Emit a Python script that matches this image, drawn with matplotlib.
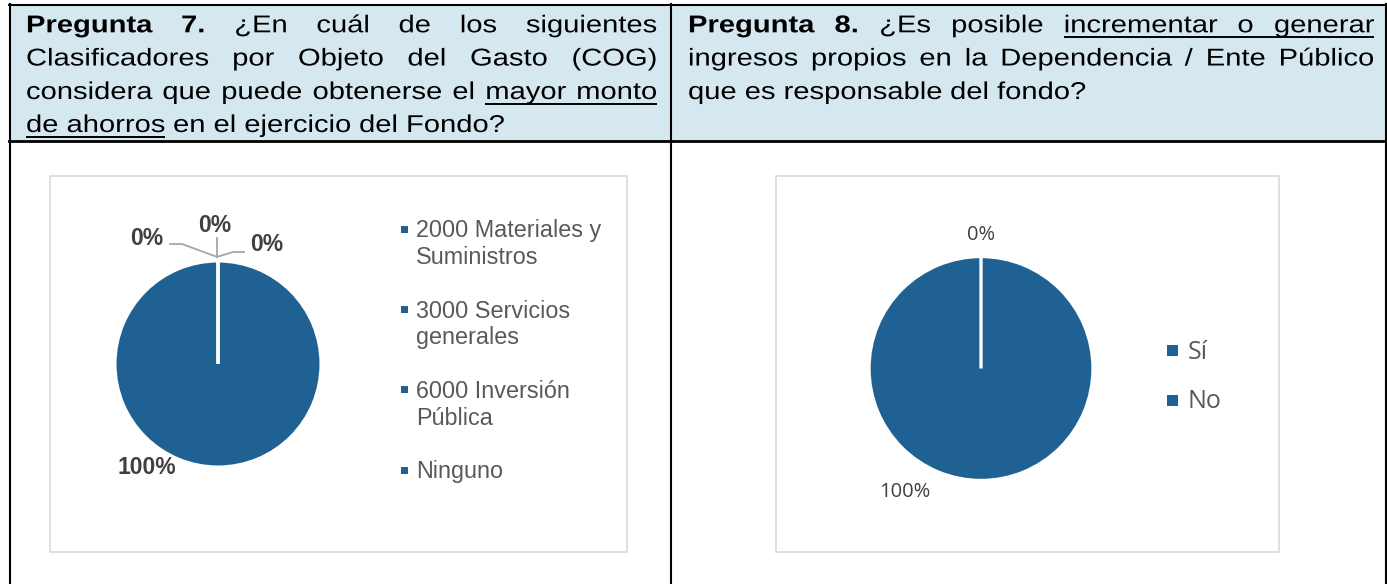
import matplotlib
matplotlib.use("Agg")
import matplotlib.pyplot as plt
from matplotlib.patches import Rectangle
from matplotlib.patheffects import AbstractPathEffect
from matplotlib.transforms import Affine2D

W, H = 1387, 584

# Datos de las graficas
cog_labels = ["2000 Materiales y\nSuministros", "3000 Servicios\ngenerales",
              "6000 Inversión\nPública", "Ninguno"]
cog_values = [0, 0, 0, 100]
ingresos_labels = ["Sí", "No"]
ingresos_values = [0, 100]

BLUE = "#1F6193"
HEADER_BG = "#D5E8F0"
ARIAL = "Liberation Sans"
SEGOE = "Open Sans"


class StretchX(AbstractPathEffect):
    """Ensancha el texto en horizontal alrededor de su punto de anclaje."""

    def __init__(self, sx, x0):
        super().__init__()
        self.sx = sx
        self.x0 = x0

    def draw_path(self, renderer, gc, tpath, affine, rgbFace=None):
        a = affine + Affine2D().translate(-self.x0, 0).scale(self.sx, 1).translate(self.x0, 0)
        renderer.draw_path(gc, tpath, a, rgbFace)


fig = plt.figure(figsize=(W / 100, H / 100), dpi=100)
bg = fig.add_axes([0, 0, 1, 1])
bg.set_xlim(0, W)
bg.set_ylim(H, 0)
bg.axis("off")

# Tabla: encabezado y bordes
bg.add_patch(Rectangle((10, 5), 1375, 135, facecolor=HEADER_BG, edgecolor="none", zorder=0))
lw = 1.5
bg.plot([9, 1387], [5, 5], color="black", lw=lw)
bg.plot([9, 1387], [140.5, 140.5], color="black", lw=2)
for x in [10, 671, 1385.5]:
    bg.plot([x, x], [4, H], color="black", lw=lw)

# Marcos de las graficas
for x0, x1 in [(50, 627), (776, 1279)]:
    bg.add_patch(Rectangle((x0, 176), x1 - x0, 376, facecolor="white",
                           edgecolor="#D9D9D9", lw=1.2, zorder=1))

renderer = fig.canvas.get_renderer()
SX = 1.2


def header_line(words, x0, x1, y, justify, size=17.5):
    texts = []
    for word, style in words:
        t = bg.text(0, y, word, fontsize=size, family=ARIAL,
                    fontweight="bold" if "b" in style else "normal",
                    va="baseline", ha="left", color="black")
        texts.append(t)
    widths = [t.get_window_extent(renderer).width * SX for t in texts]
    if justify:
        gap = (x1 - x0 - sum(widths)) / (len(texts) - 1)
    else:
        gap = 0.278 * size * 100 / 72 * SX
    x = x0
    spans = []
    for t, w, (word, style) in zip(texts, widths, words):
        t.set_position((x, y))
        t.set_path_effects([StretchX(SX, bg.transData.transform((x, y))[0])])
        spans.append((x, x + w, "u" in style))
        x += w + gap
    # subrayado
    start = None
    for i, (a, b, u) in enumerate(spans):
        if u and start is None:
            start = a
        if u and (i == len(spans) - 1 or not spans[i + 1][2]):
            bg.plot([start, b], [y + 4.5, y + 4.5], color="black", lw=1.4,
                    solid_capstyle="butt")
            start = None


def words(s, style=""):
    return [(w, style) for w in s.split()]


left_lines = [
    words("Pregunta 7.", "b") + words("¿En cuál de los siguientes"),
    words("Clasificadores por Objeto del Gasto (COG)"),
    words("considera que puede obtenerse el") + words("mayor monto", "u"),
    words("de ahorros", "u") + words("en el ejercicio del Fondo?"),
]
right_lines = [
    words("Pregunta 8.", "b") + words("¿Es posible") + words("incrementar o generar", "u"),
    words("ingresos propios en la Dependencia / Ente Público"),
    words("que es responsable del fondo?"),
]
baselines = [32.3, 65.5, 99, 132]
for i, ln in enumerate(left_lines):
    header_line(ln, 26, 657, baselines[i], i < len(left_lines) - 1)
for i, ln in enumerate(right_lines):
    header_line(ln, 688, 1374, baselines[i], i < len(right_lines) - 1)


def draw_pie(cx, cy, r, values, lw, span=1.6):
    R = r * span
    ax = fig.add_axes([(cx - R) / W, (H - cy - R) / H, 2 * R / W, 2 * R / H])
    wedges, _ = ax.pie(values, colors=[BLUE] * len(values), startangle=90,
                       counterclock=False, radius=1,
                       wedgeprops=dict(edgecolor="white", linewidth=lw))
    # las rebanadas de 0% quedan como linea blanca encima
    for w, v in zip(wedges, values):
        if v == 0:
            w.set_zorder(5)
    ax.set_xlim(-span, span)
    ax.set_ylim(-span, span)
    ax.set_aspect("equal")
    ax.axis("off")
    return ax


# Grafica 1
ax1 = draw_pie(218, 364, 103, cog_values, 2.2)
lead = "#A6A6A6"
ax1.plot([-0.466, -0.35, -0.01], [1.165, 1.165, 1.04], color=lead, lw=1.3)
ax1.plot([-0.01, -0.01], [1.04, 1.22], color=lead, lw=1.3)
ax1.plot([-0.01, 0.146, 0.252], [1.04, 1.087, 1.087], color=lead, lw=1.3)
pct1 = [f"{v:.0f}%" for v in cog_values]
label_pos1 = [(-0.69, 1.22), (-0.03, 1.34), (0.47, 1.16), (-0.69, -1.0)]
for txt, (lx, ly) in zip(pct1, label_pos1):
    ax1.text(lx, ly, txt, ha="center", va="center", fontsize=16.5, fontweight="bold",
             family=ARIAL, color="#404040")

for i, lab in enumerate(cog_labels):
    y0 = 237.3 + 80.3 * i
    bg.add_patch(Rectangle((401, y0 - 11.5), 7, 7, facecolor=BLUE, edgecolor="none", zorder=2))
    for j, part in enumerate(lab.split("\n")):
        bg.text(416, y0 + 26.7 * j, part, fontsize=16.8, family=ARIAL, color="#595959",
                va="baseline", ha="left")

# Grafica 2
ax2 = draw_pie(981, 368.5, 112, ingresos_values, 2.4)
pct2 = [f"{v:.0f}%" for v in ingresos_values]
label_pos2 = [(0.0, 1.19), (-0.68, -1.10)]
for txt, (lx, ly) in zip(pct2, label_pos2):
    ax2.text(lx, ly, txt, ha="center", va="center", fontsize=14.5, family=SEGOE,
             color="#404040")

for i, lab in enumerate(ingresos_labels):
    y0 = 359 + 49.5 * i
    bg.add_patch(Rectangle((1167, y0 - 14), 11, 11, facecolor=BLUE, edgecolor="none", zorder=2))
    bg.text(1188, y0, lab, fontsize=18, family=SEGOE, color="#595959",
            va="baseline", ha="left")

fig.savefig("out.png", dpi=100)
plt.close(fig)
